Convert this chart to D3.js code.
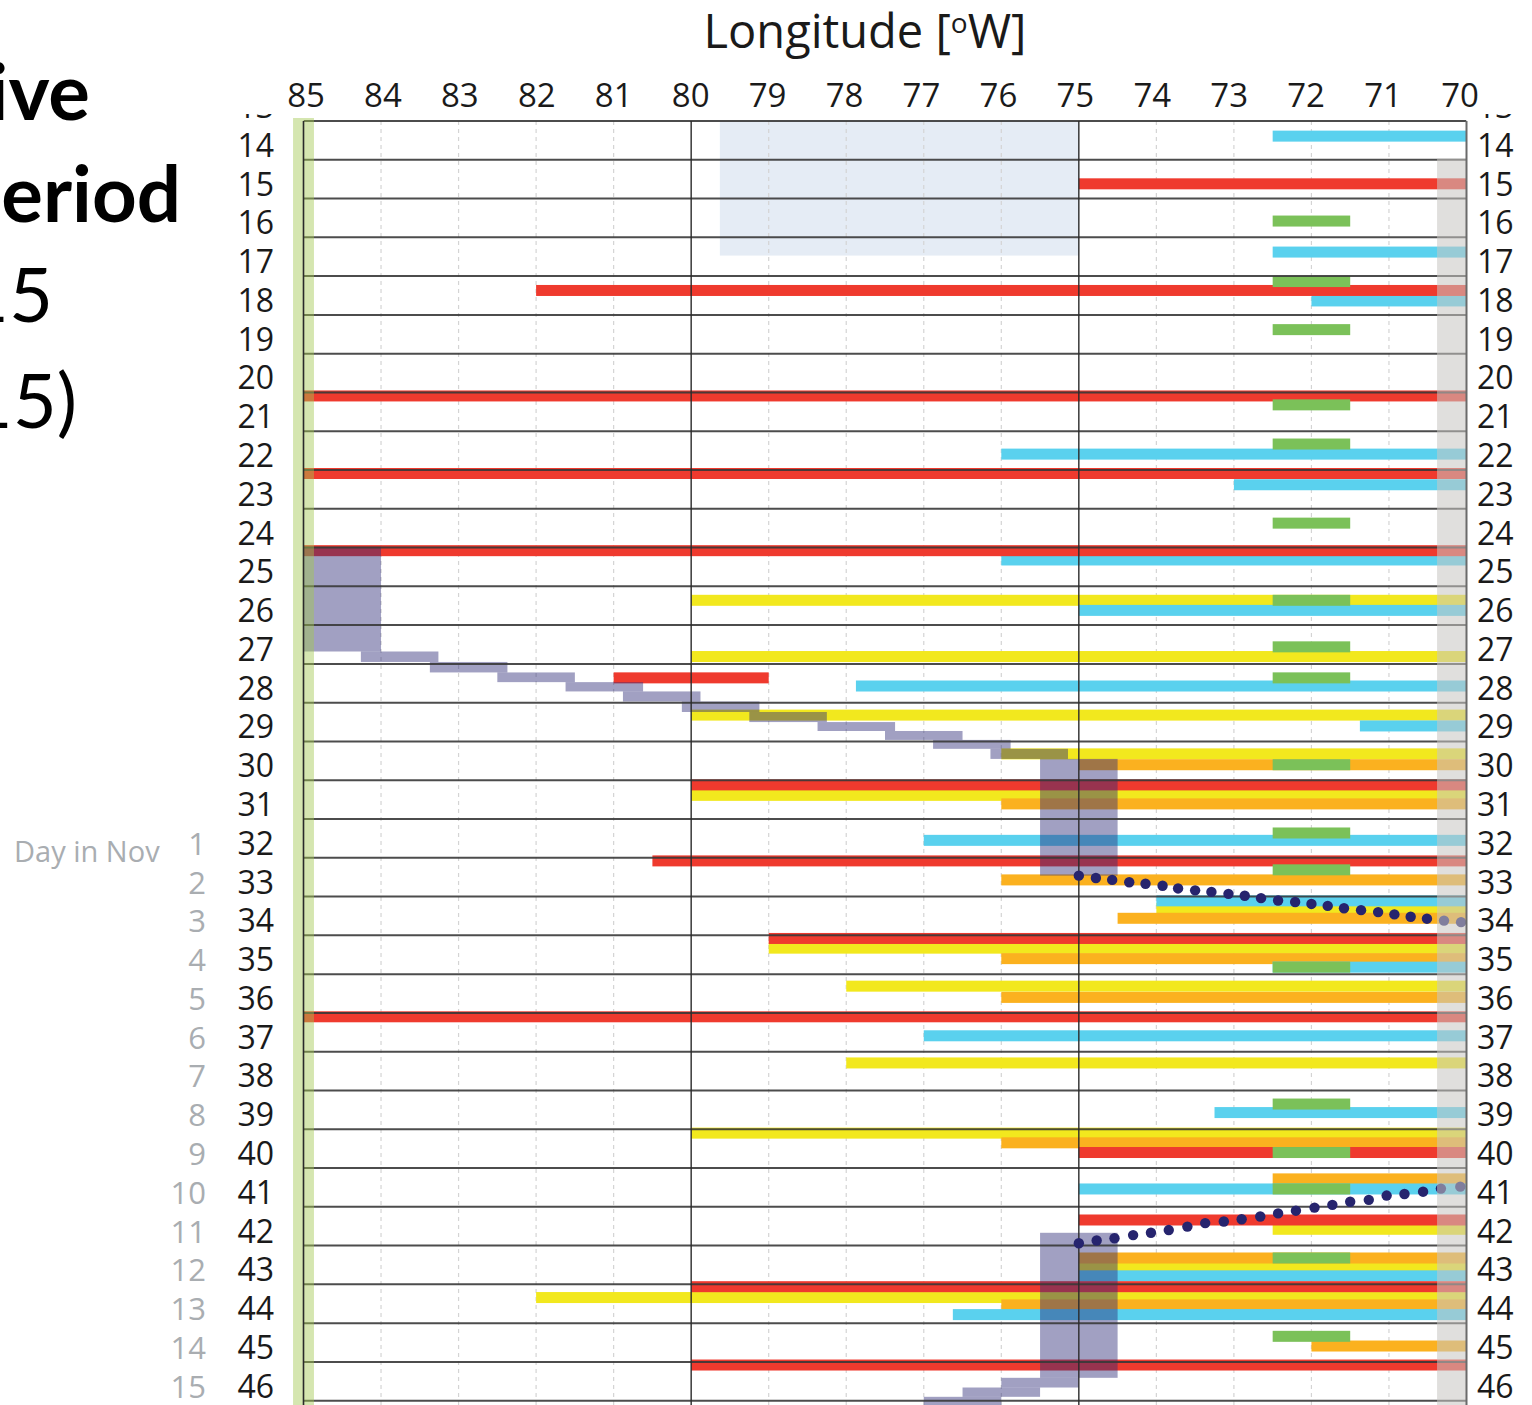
<!DOCTYPE html>
<html>
<head>
<meta charset="utf-8">
<script src="https://cdn.jsdelivr.net/npm/d3@7"></script>
<style>
  body { margin: 0; background: #fff; }
  svg text { font-family: "Open Sans", "Noto Sans", sans-serif; }
</style>
</head>
<body>
<div id="chart"></div>
<script>
// ---- data ----
const lonTicks = d3.range(85, 69, -1);          // 85 ... 70 (deg W)
const dayRows = d3.range(13, 47);                // row labels (13 is cut off at the top)
const novDays = d3.range(1, 16);                 // 1..15 Nov, aligned with rows 32..46
const novStartRow = 32;

// bars: [day, lon from, lon to]
const redBars = [
  [15.62, 75, 70], [18.37, 82, 70], [21.09, 85, 70], [23.09, 85, 70],
  [25.08, 85, 70], [28.36, 81, 79], [31.12, 80, 70], [33.08, 80.5, 70],
  [35.08, 79, 70], [37.10, 85, 70], [40.60, 75, 70], [42.34, 75, 70],
  [44.06, 80, 70], [46.08, 80, 70]
];
const yellowBars = [
  [26.36, 80, 70], [27.81, 80, 70], [29.32, 80, 70], [30.32, 76, 70],
  [31.39, 80, 70], [34.31, 74, 70], [35.33, 79, 70], [36.31, 78, 70],
  [38.29, 78, 70], [40.10, 80, 70], [42.58, 72.5, 70], [43.56, 75, 70],
  [44.34, 82, 70]
];
const orangeBars = [
  [30.60, 75, 70], [31.61, 76, 70], [33.57, 76, 70], [34.56, 74.5, 70],
  [35.60, 76, 70], [36.60, 76, 70], [40.35, 76, 70], [41.28, 72.5, 70],
  [43.32, 75, 70], [44.53, 76, 70], [45.59, 72, 70]
];
const cyanBars = [
  [14.39, 72.5, 70], [17.38, 72.5, 70], [18.64, 72, 70], [22.59, 76, 70],
  [23.38, 73, 70], [25.32, 76, 70], [26.62, 75, 70], [28.57, 77.875, 70],
  [29.60, 71.375, 70], [32.55, 77, 70], [34.11, 74, 70], [35.82, 72.5, 70],
  [37.59, 77, 70], [39.57, 73.25, 70], [41.54, 75, 70], [43.78, 75, 70],
  [44.78, 76.625, 70]
];
const greenBars = [
  [16.58, 72.5, 71.5], [18.14, 72.5, 71.5], [19.38, 72.5, 71.5], [21.32, 72.5, 71.5],
  [22.33, 72.5, 71.5], [24.37, 72.5, 71.5], [26.36, 72.5, 71.5], [27.56, 72.5, 71.5],
  [28.36, 72.5, 71.5], [30.60, 72.5, 71.5], [32.36, 72.5, 71.5], [33.31, 72.5, 71.5],
  [35.82, 72.5, 71.5], [39.35, 72.5, 71.5], [40.60, 72.5, 71.5], [41.54, 72.5, 71.5],
  [43.32, 72.5, 71.5], [45.34, 72.5, 71.5]
];

// track boxes: [centre lon, day start, day end], 1 deg wide
const trackBoxes = [
  [84.5, 24.98, 27.68], [83.76, 27.68, 27.95], [82.87, 27.95, 28.22],
  [82.00, 28.22, 28.47], [81.12, 28.47, 28.71], [80.38, 28.71, 28.97],
  [79.62, 28.97, 29.24], [78.75, 29.24, 29.50], [77.87, 29.50, 29.73],
  [77.00, 29.73, 29.96], [76.38, 29.96, 30.19], [75.64, 30.19, 30.45],
  [75.00, 30.45, 33.46], [75.00, 42.67, 46.41], [75.50, 46.41, 46.66],
  [76.00, 46.66, 46.90], [76.50, 46.90, 47.24]
];

// dotted tracks: [lon, day]
const dotsA = [
  [75.00, 33.46], [74.78, 33.52], [74.57, 33.57], [74.35, 33.63], [74.14, 33.67],
  [73.92, 33.72], [73.72, 33.79], [73.50, 33.84], [73.29, 33.88], [73.07, 33.93],
  [72.86, 33.98], [72.65, 34.04], [72.43, 34.10], [72.21, 34.14], [72.00, 34.19],
  [71.79, 34.24], [71.58, 34.30], [71.36, 34.35], [71.14, 34.40], [70.93, 34.46],
  [70.72, 34.52], [70.51, 34.57], [70.29, 34.62], [70.07, 34.66]
];
const dotsB = [
  [75.00, 42.94], [74.77, 42.87], [74.54, 42.81], [74.30, 42.73], [74.07, 42.67],
  [73.84, 42.60], [73.60, 42.51], [73.37, 42.42], [73.13, 42.38], [72.90, 42.32],
  [72.66, 42.25], [72.43, 42.17], [72.20, 42.10], [71.96, 42.02], [71.73, 41.95],
  [71.50, 41.87], [71.26, 41.82], [71.03, 41.71], [70.80, 41.67], [70.56, 41.61],
  [70.33, 41.53], [70.08, 41.48]
];

// shaded area: [lon from, lon to, day from, day to]
const blueArea = [79.63, 75, 14, 17.47];

// ---- drawing ----
const W = 1532, H = 1405;
const BAR_H = 11;

const svg = d3.select('#chart').append('svg')
  .attr('width', W).attr('height', H)
  .style('background-color', 'white');

const x = d3.scaleLinear().domain([85, 70]).range([303.5, 1466.5]);
const y = d3.scaleLinear().domain([14, 47]).range([121, 1400.7]);
// tick labels sit a little tighter than the grid in the original
const xLabel = d3.scaleLinear().domain([85, 70]).range([306, 1460]);

const defs = svg.append('defs');
defs.append('clipPath').attr('id', 'plotClip')
  .append('rect').attr('x', x(85)).attr('y', 110).attr('width', x(70) - x(85)).attr('height', H - 110);
defs.append('clipPath').attr('id', 'topCut')
  .append('rect').attr('x', 0).attr('y', 114).attr('width', W).attr('height', H);

// cut-off slide text on the left
const leftText = svg.append('g').attr('fill', '#000').attr('text-anchor', 'end');
leftText.append('text').attr('x', 90).attr('y', 120).style('font-family', 'Lato')
  .style('font-weight', 'bold').style('font-size', '78px').text('ive');
leftText.append('text').attr('x', 181).attr('y', 222).style('font-family', 'Lato')
  .style('font-weight', 'bold').style('font-size', '78px').text('eriod');
leftText.append('text').attr('x', 53).attr('y', 322).style('font-family', 'Lato')
  .style('font-size', '76px').text('15');
leftText.append('text').attr('x', 77).attr('y', 428).style('font-family', 'Lato')
  .style('font-size', '76px').text('15)');

const plot = svg.append('g').attr('clip-path', 'url(#plotClip)');

plot.append('rect')
  .attr('x', x(blueArea[0])).attr('width', x(blueArea[1]) - x(blueArea[0]))
  .attr('y', y(blueArea[2])).attr('height', y(blueArea[3]) - y(blueArea[2]))
  .attr('fill', '#e5ecf5');

// dashed longitude grid
plot.selectAll('.vgrid')
  .data(lonTicks.filter(d => d % 5 !== 0))
  .join('line')
  .attr('class', 'vgrid')
  .attr('x1', d => x(d)).attr('x2', d => x(d))
  .attr('y1', y(14)).attr('y2', H)
  .attr('stroke', '#d4d4d4').attr('stroke-width', 1.2).attr('stroke-dasharray', '4,4');

function drawBars(data, colour) {
  plot.append('g').selectAll('rect')
    .data(data)
    .join('rect')
    .attr('x', d => x(d[1]))
    .attr('width', d => x(d[2]) - x(d[1]))
    .attr('y', d => y(d[0]) - BAR_H / 2)
    .attr('height', BAR_H)
    .attr('fill', colour);
}
drawBars(yellowBars, '#f2e81e');
drawBars(orangeBars, '#fbb11f');
drawBars(cyanBars, '#5ad1ee');
drawBars(redBars, '#ef3a2e');
drawBars(greenBars, '#7bc159');

// track boxes
plot.append('g').selectAll('rect')
  .data(trackBoxes)
  .join('rect')
  .attr('x', d => x(d[0] + 0.5))
  .attr('width', d => x(d[0] - 0.5) - x(d[0] + 0.5))
  .attr('y', d => y(d[1]))
  .attr('height', d => y(d[2]) - y(d[1]))
  .attr('fill', '#2f2c78').attr('fill-opacity', 0.45);

// day lines
plot.selectAll('.hgrid')
  .data(d3.range(14, 48))
  .join('line')
  .attr('class', 'hgrid')
  .attr('x1', x(85)).attr('x2', x(70))
  .attr('y1', d => y(d)).attr('y2', d => y(d))
  .attr('stroke', '#383838').attr('stroke-width', 2).attr('stroke-opacity', 0.9);

// solid meridians
plot.selectAll('.vmain')
  .data([80, 75])
  .join('line')
  .attr('class', 'vmain')
  .attr('x1', d => x(d)).attr('x2', d => x(d))
  .attr('y1', y(14)).attr('y2', H)
  .attr('stroke', '#2a2a2a').attr('stroke-width', 1.4);

// dotted tracks
[dotsA, dotsB].forEach(track => {
  plot.append('g').selectAll('circle')
    .data(track)
    .join('circle')
    .attr('cx', d => x(d[0]))
    .attr('cy', d => y(d[1]))
    .attr('r', 5.2)
    .attr('fill', '#26246e');
});

// grey band at 70W
svg.append('rect')
  .attr('x', x(70.38)).attr('width', x(70) - x(70.38))
  .attr('y', y(15) - 1).attr('height', H - y(15) + 1)
  .attr('fill', '#c8c6c2').attr('fill-opacity', 0.56);

// green band at 85W
svg.append('rect')
  .attr('x', x(85.135)).attr('width', x(84.865) - x(85.135))
  .attr('y', 118).attr('height', H - 118)
  .attr('fill', 'rgb(162,199,79)').attr('fill-opacity', 0.45);

// borders
svg.append('line')
  .attr('x1', x(85)).attr('x2', x(85)).attr('y1', y(14)).attr('y2', H)
  .attr('stroke', '#2a2a2a').attr('stroke-width', 1.6);
svg.append('line')
  .attr('x1', x(70)).attr('x2', x(70)).attr('y1', y(14)).attr('y2', H)
  .attr('stroke', '#6a6a6a').attr('stroke-width', 2);

// top axis labels
svg.append('g').selectAll('text')
  .data(lonTicks)
  .join('text')
  .attr('x', d => xLabel(d))
  .attr('y', 107)
  .attr('text-anchor', 'middle')
  .style('font-size', '33px')
  .attr('fill', '#1a1a1a')
  .text(d => d);

const title = svg.append('text')
  .attr('x', 865).attr('y', 48)
  .attr('text-anchor', 'middle')
  .style('font-size', '47px')
  .attr('fill', '#1a1a1a');
title.append('tspan').text('Longitude [');
title.append('tspan').attr('dy', -15).style('font-size', '28px').text('o');
title.append('tspan').attr('dy', 15).text('W]');

// row labels both sides
const rowLabels = svg.append('g').attr('clip-path', 'url(#topCut)')
  .style('font-size', '32px').attr('fill', '#1a1a1a');
rowLabels.selectAll('.lrow')
  .data(dayRows)
  .join('text')
  .attr('class', 'lrow')
  .attr('x', 274)
  .attr('y', d => y(d + 1) - 3)
  .attr('text-anchor', 'end')
  .text(d => d);
rowLabels.selectAll('.rrow')
  .data(dayRows)
  .join('text')
  .attr('class', 'rrow')
  .attr('x', 1477)
  .attr('y', d => y(d + 1) - 3)
  .attr('text-anchor', 'start')
  .text(d => d);

// day in November
svg.append('g').selectAll('text')
  .data(novDays)
  .join('text')
  .attr('x', 206)
  .attr('y', (d, i) => y(novStartRow + i + 1) - 3)
  .attr('text-anchor', 'end')
  .style('font-size', '31px')
  .attr('fill', '#a9adb1')
  .text(d => d);
svg.append('text')
  .attr('x', 14).attr('y', 862)
  .style('font-size', '29px')
  .attr('fill', '#a9adb1')
  .text('Day in Nov');
</script>
</body>
</html>
